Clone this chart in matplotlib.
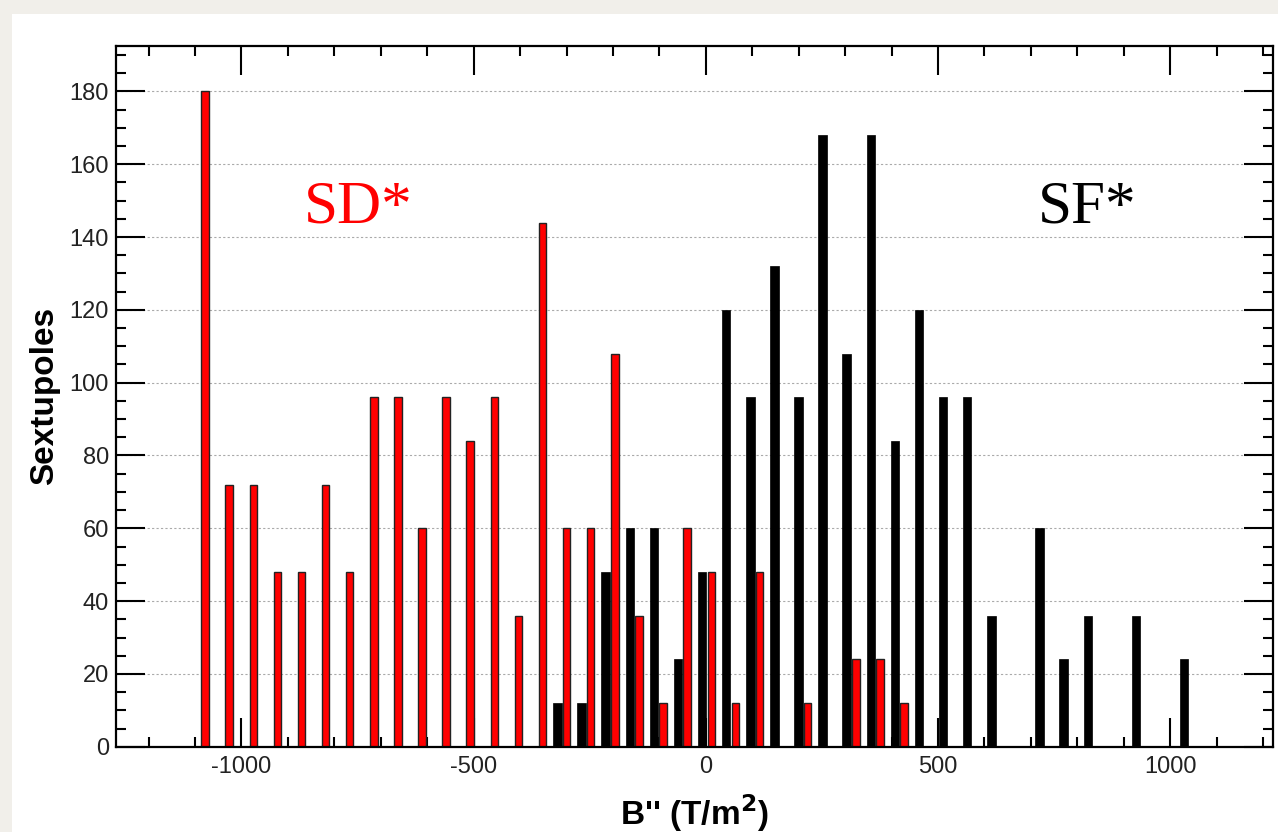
import numpy as np
import matplotlib
matplotlib.use("Agg")
import matplotlib.pyplot as plt
from matplotlib.patches import Rectangle
from matplotlib.ticker import MultipleLocator

plt.rcParams['font.family'] = ['Liberation Sans', 'DejaVu Sans']
plt.rcParams['axes.unicode_minus'] = False

# histogram binning (B'' in T/m^2)
x_min = -1270.0
bin_w = 51.9
n_bins = 48

# counts per bin, SD* (red) and SF* (black)
sd_counts = [0, 0, 0,
             180, 72, 72, 48, 48, 72, 48, 96, 96, 60,
             96, 84, 96, 36, 144, 60, 60, 108, 36, 12,
             60, 48, 12, 48, 0, 12, 0, 24, 24, 12,
             0, 0, 0, 0, 0, 0, 0, 0, 0, 0, 0, 0, 0, 0, 0]
sf_counts = [0] * 18 + [12, 12, 48, 60, 60, 24, 48, 120, 96, 132,
                        96, 168, 108, 168, 84, 120, 96, 96, 36, 0,
                        60, 24, 36, 0, 36, 0, 24] + [0, 0, 0]

sd_label = "SD*"
sf_label = "SF*"
x_title = "B'' (T/m$^{\\mathbf{2}}$)"
y_title = "Sextupoles"

bin_left = x_min + bin_w * np.arange(n_bins)

fig = plt.figure(figsize=(12.78, 8.32), dpi=100)
fig.patch.set_facecolor('#f1efea')
fig.patches.append(Rectangle((12 / 1278, 0), 1, 1 - 14 / 832,
                             transform=fig.transFigure, facecolor='white',
                             edgecolor='none', zorder=-10))

ax = fig.add_axes([116 / 1278, 1 - 746.7 / 832, (1273 - 116) / 1278, (746.7 - 46) / 832])
ax.set_facecolor('white')

# black bars sit left in the bin, red bars right
ax.bar(bin_left + 0.14 * bin_w, sf_counts, width=0.35 * bin_w, align='edge',
       color='black', edgecolor='black', linewidth=0.5, zorder=2)
ax.bar(bin_left + 0.54 * bin_w, sd_counts, width=0.31 * bin_w, align='edge',
       color='#ff0000', edgecolor='#222222', linewidth=1.0, zorder=3)

ax.set_xlim(x_min, x_min + n_bins * bin_w)
ax.set_ylim(0, 192.5)

ax.xaxis.set_major_locator(MultipleLocator(500))
ax.xaxis.set_minor_locator(MultipleLocator(100))
ax.yaxis.set_major_locator(MultipleLocator(20))
ax.yaxis.set_minor_locator(MultipleLocator(5))
ax.tick_params(which='both', direction='in', top=True, right=True, width=1.5)
ax.tick_params(which='major', length=21, labelsize=17, pad=7, labelcolor='#222222')
ax.tick_params(which='minor', length=7)
ax.tick_params(axis='y', which='major', pad=5)

for s in ax.spines.values():
    s.set_linewidth(1.6)
    s.set_zorder(5)

ax.yaxis.grid(True, linestyle=(0, (2, 2)), color='#aaaaaa', linewidth=0.8)
ax.set_axisbelow(True)

ax.set_xlabel(x_title, fontsize=24, fontweight='bold', labelpad=10)
ax.set_ylabel(y_title, fontsize=24, fontweight='bold', labelpad=7)

ax.text(-865, 144, sd_label, color='#ff0000', fontsize=44,
        family='Liberation Serif', ha='left', va='baseline')
ax.text(716, 144, sf_label, color='black', fontsize=44,
        family='Liberation Serif', ha='left', va='baseline')

fig.savefig('out.png', dpi=100, facecolor=fig.get_facecolor())
